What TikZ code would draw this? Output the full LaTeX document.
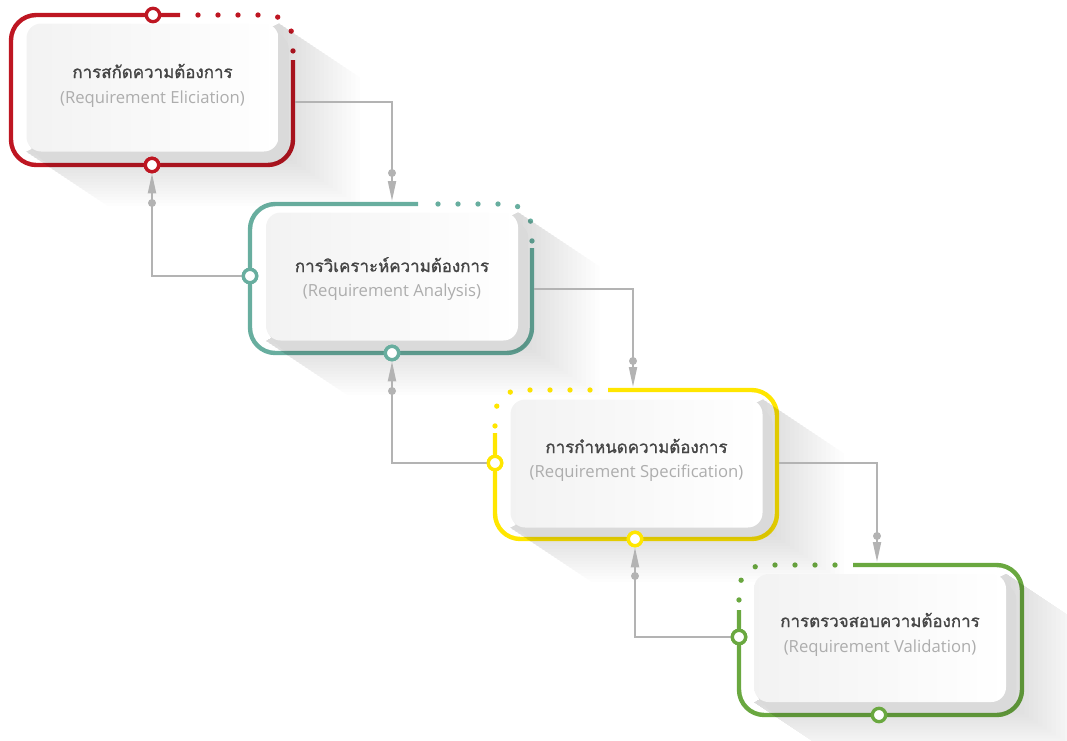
\documentclass[tikz,border=0pt]{standalone}
\usepackage{fontspec}
\newfontfamily\thaifont[Script=Thai,FakeBold=1.2]{Loma}
\newfontfamily\latinfont{Open Sans}
\usetikzlibrary{calc,arrows.meta}

\definecolor{cred}{HTML}{BE1622}
\definecolor{cteal}{HTML}{68AE9F}
\definecolor{cyellow}{HTML}{FFE600}
\definecolor{cgreen}{HTML}{6AA840}
\definecolor{slabgray}{HTML}{DADADA}
\definecolor{linkgray}{HTML}{B3B3B3}
\definecolor{titlegray}{HTML}{454545}
\definecolor{subgray}{HTML}{ADADAD}

\pgfdeclarelayer{shadow}
\pgfdeclarelayer{slab}
\pgfsetlayers{shadow,slab,main}

\tikzset{
  card/.style={rounded corners=11pt, minimum width=189pt, minimum height=96pt,
    inner sep=0pt, left color=black!5, right color=white},
  slabfill/.style={fill=slabgray, rounded corners=11pt},
  frameline/.style={line width=3.3pt, rounded corners=19pt, blend mode=multiply},
  framedots/.style={frameline, line width=4pt, line cap=round, dash pattern=on 0pt off 15pt},
  port/.style={circle, fill=white, line width=2.5pt, minimum size=10pt, inner sep=0pt},
  link/.style={draw=linkgray, line width=1.5pt, -{Triangle[length=15pt,width=6pt]}},
  pin/.style={circle, fill=linkgray, minimum size=6pt, inner sep=0pt},
  title/.style={anchor=base, text=titlegray, font=\thaifont\fontsize{12.7}{15}\selectfont},
  subtitle/.style={anchor=base, text=subgray, font=\latinfont\fontsize{12.5}{15}\selectfont},
}

\begin{document}
\begin{tikzpicture}[x=0.75pt, y=-0.75pt]
\useasboundingbox (0,0) rectangle (1067,740);

% cards
\node[card] (c1) at (152.5,87.5) {};
\node[card] (c2) at (392,276.5) {};
\node[card] (c3) at (636.5,463.5) {};
\node[card] (c4) at (880,638) {};

% long diagonal shadows and the raised slab under each card
\begin{pgfonlayer}{shadow}
\foreach \c in {c1,c2,c3,c4}{
  \foreach \k in {1,...,18}{
    \fill[black, opacity=0.0075] (\c.north east) -- ($(\c.north east)+\k*(4.5,3)$)
      -- ($(\c.south east)+\k*(4.5,3)$) -- ($(\c.south west)+\k*(4.5,3)$)
      -- (\c.south west) -- cycle;
  }
}
\end{pgfonlayer}
\begin{pgfonlayer}{slab}
\foreach \c in {c1,c2,c3,c4}{
  \foreach \k in {1,...,4}{
    \fill[slabfill] ($(\c.south west)+\k*(2.5,2.75)$) rectangle ($(\c.north east)+\k*(2.5,2.75)$);
  }
}
\end{pgfonlayer}

% card texts
\node[title] (h1) at (152.5,78) {การสกัดความต้องการ};
\node[subtitle] (s1) at (152.5,103) {(Requirement Eliciation)};
\node[title] (h2) at (392,272) {การวิเคราะห์ความต้องการ};
\node[subtitle] (s2) at (392,296) {(Requirement Analysis)};
\node[title] (h3) at (636.5,453) {การกำหนดความต้องการ};
\node[subtitle] (s3) at (636.5,477) {(Requirement Specification)};
\node[title] (h4) at (880,627) {การตรวจสอบความต้องการ};
\node[subtitle] (s4) at (880,652) {(Requirement Validation)};

% coloured frames: solid run plus a dotted corner
\draw[frameline, cred] (293,60) -- (293,165) -- (11,165) -- (11,15) -- (180,15);
\draw[framedots, cred] (198,15) -- (293,15) -- (293,52);
\draw[frameline, cteal] (532,248) -- (532,353) -- (250,353) -- (250,204) -- (418,204);
\draw[framedots, cteal] (438,204) -- (532,204) -- (532,241);
\draw[frameline, cyellow] (495,433) -- (495,539) -- (777,539) -- (777,390) -- (608,390);
\draw[framedots, cyellow] (590,390) -- (495,390) -- (495,427);
\draw[frameline, cgreen] (739,610) -- (739,715) -- (1022,715) -- (1022,565) -- (853,565);
\draw[framedots, cgreen] (835,565) -- (739,565) -- (739,602);

% ports on the frames
\node[port, draw=cred] (p1t) at (153,15) {};
\node[port, draw=cred] (p1b) at (152,165) {};
\node[port, draw=cteal] (p2l) at (250,276) {};
\node[port, draw=cteal] (p2b) at (392,353) {};
\node[port, draw=cyellow] (p3l) at (495,463) {};
\node[port, draw=cyellow] (p3b) at (635,539) {};
\node[port, draw=cgreen] (p4l) at (739,637) {};
\node[port, draw=cgreen] (p4b) at (879,715) {};

% connector ends on the frames
\coordinate (o1) at (295,102);
\coordinate (o2) at (534,289);
\coordinate (o3) at (779,463);
\coordinate (t2) at (392,201);
\coordinate (t3) at (633,387);
\coordinate (t4) at (877,562);

% forward and feedback connectors
\draw[link] (o1) -| (t2);
\draw[link] (o2) -| (t3);
\draw[link] (o3) -| (t4);
\draw[link] (p2l) -| (p1b);
\draw[link] (p3l) -| (p2b);
\draw[link] (p4l) -| (p3b);

% pins on the connectors
\node[pin] (d1) at (392,173) {};
\node[pin] (d2) at (152,203) {};
\node[pin] (d3) at (633,361) {};
\node[pin] (d4) at (392,391) {};
\node[pin] (d5) at (877,536) {};
\node[pin] (d6) at (635,576) {};

% redraw ports above connector ends
\foreach \p/\col in {p1b/cred,p2b/cteal,p3b/cyellow,p2l/cteal,p3l/cyellow,p4l/cgreen}{
  \node[port, draw=\col] at (\p) {};
}
\end{tikzpicture}
\end{document}
